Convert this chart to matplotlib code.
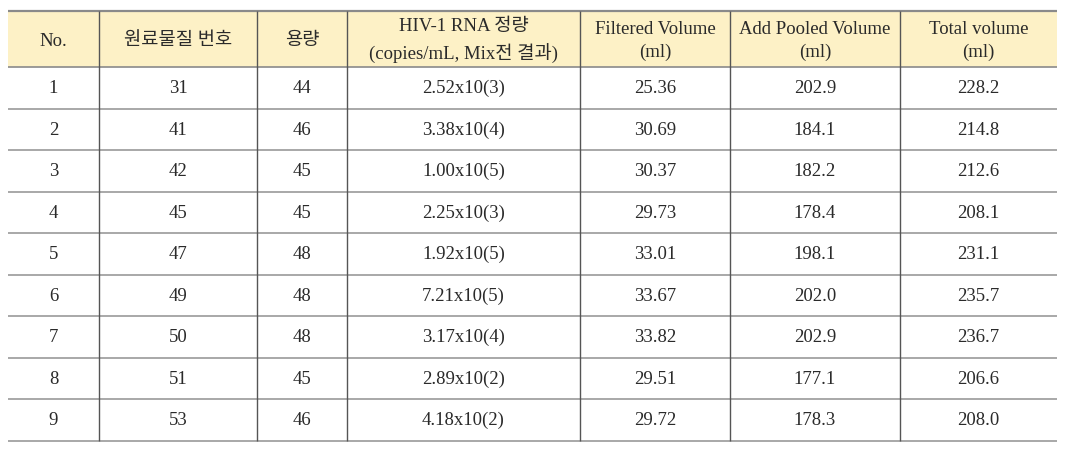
import matplotlib
matplotlib.use("Agg")
import matplotlib.pyplot as plt
from matplotlib.patches import Rectangle

# table data
headers = ["No.", "원료물질 번호", "용량", "HIV-1 RNA 정량\n(copies/mL, Mix전 결과)",
           "Filtered Volume\n(ml)", "Add Pooled Volume\n(ml)", "Total volume\n(ml)"]
row_no = ["1", "2", "3", "4", "5", "6", "7", "8", "9"]
material_no = ["31", "41", "42", "45", "47", "49", "50", "51", "53"]
capacity = ["44", "46", "45", "45", "48", "48", "48", "45", "46"]
rna = ["2.52x10(3)", "3.38x10(4)", "1.00x10(5)", "2.25x10(3)", "1.92x10(5)",
       "7.21x10(5)", "3.17x10(4)", "2.89x10(2)", "4.18x10(2)"]
filtered = ["25.36", "30.69", "30.37", "29.73", "33.01", "33.67", "33.82", "29.51", "29.72"]
pooled = ["202.9", "184.1", "182.2", "178.4", "198.1", "202.0", "202.9", "177.1", "178.3"]
total = ["228.2", "214.8", "212.6", "208.1", "231.1", "235.7", "236.7", "206.6", "208.0"]

columns = [row_no, material_no, capacity, rna, filtered, pooled, total]

# layout in pixels
col_edges = [8, 99, 257, 347, 580, 730, 900, 1057]
top = 12
head_bottom = 68
row_h = 41.5
fam = ["Liberation Serif", "Noto Sans CJK KR"]

fig = plt.figure(figsize=(10.69, 4.60), dpi=100)
ax = fig.add_axes([0, 0, 1, 1])
ax.set_xlim(0, 1069)
ax.set_ylim(460, 0)
ax.axis("off")

ax.add_patch(Rectangle((col_edges[0], top), col_edges[-1] - col_edges[0],
                       head_bottom - top, facecolor="#fdf1c6", edgecolor="none"))

n = len(row_no)
bottom = head_bottom + n * row_h

# grid lines
ax.hlines(top, col_edges[0], col_edges[-1], color="#8a8a8a", lw=1.6)
ax.hlines(head_bottom, col_edges[0], col_edges[-1], color="#8a8a8a", lw=1.2)
for i in range(1, n + 1):
    ax.hlines(head_bottom + i * row_h, col_edges[0], col_edges[-1], color="#9a9a9a", lw=1.2)
ax.vlines(col_edges[1:-1], top, bottom, color="#555555", lw=1.0)

# text
for j, h in enumerate(headers):
    cx = (col_edges[j] + col_edges[j + 1]) / 2
    ax.text(cx, (top + head_bottom) / 2 + 1, h, ha="center", va="center",
            fontsize=13.5, family=fam, color="#2a2a2a", linespacing=1.5)

for j, col in enumerate(columns):
    cx = (col_edges[j] + col_edges[j + 1]) / 2
    for i, v in enumerate(col):
        cy = head_bottom + (i + 0.5) * row_h
        ax.text(cx, cy, v, ha="center", va="center", fontsize=13.5,
                family=fam, color="#2a2a2a")

fig.savefig("out.png", dpi=100)
